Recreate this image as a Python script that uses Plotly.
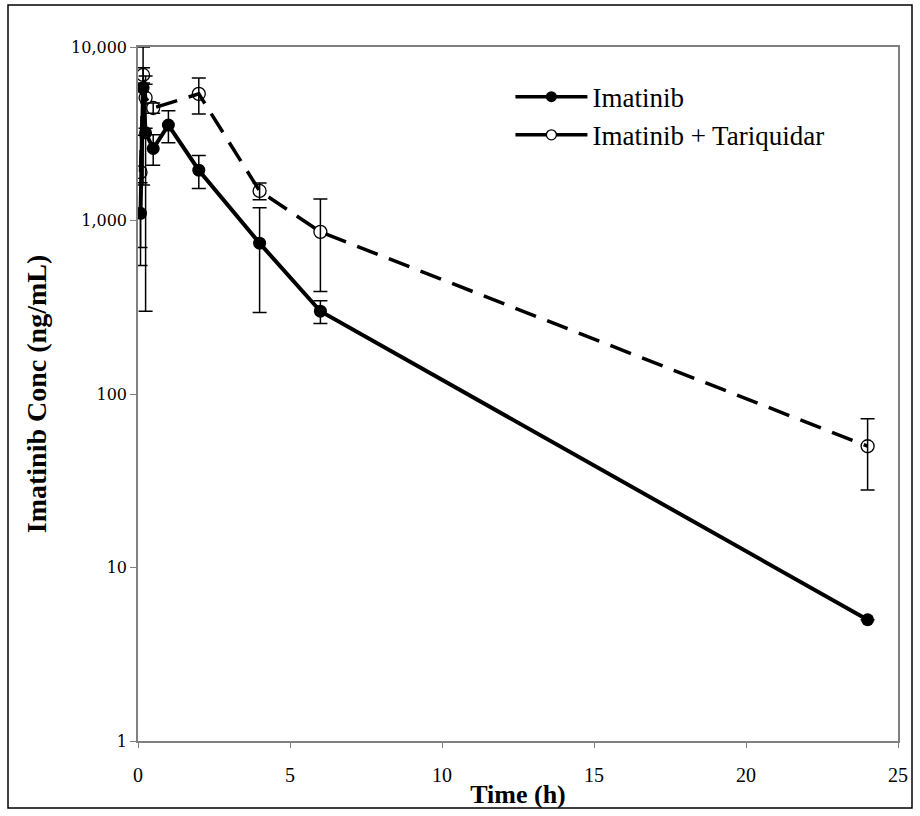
import plotly.graph_objects as go

# Data
time_ima = [0.083, 0.167, 0.25, 0.5, 1, 2, 4, 6, 24]
conc_ima = [1100, 5800, 3200, 2600, 3550, 1950, 740, 300, 5]
sd_ima = [550, 4200, 2900, 520, 740, 420, 445, 45, 0]

time_tq = [0.083, 0.167, 0.25, 0.5, 2, 4, 6, 24]
conc_tq = [1900, 6900, 5100, 4450, 5370, 1480, 860, 50]
sd_tq = [1200, 700, 1700, 300, 1260, 165, 470, 22]

y_tickvals = [1, 10, 100, 1000, 10000]
y_ticktext = ["1", "10", "100", "1,000", "10,000"]
x_tickvals = [0, 5, 10, 15, 20, 25]

SERIF = "Liberation Serif, Times New Roman, serif"

fig = go.Figure()

fig.add_trace(go.Scatter(
    x=time_tq, y=conc_tq, mode="lines+markers", showlegend=False,
    line=dict(color="black", width=3.5, dash="22px,12px"),
    marker=dict(symbol="circle-open", size=13, color="black", line=dict(width=1.3)),
    error_y=dict(type="data", array=sd_tq, color="black", thickness=1.5, width=7),
))
fig.add_trace(go.Scatter(
    x=time_ima, y=conc_ima, mode="lines+markers", showlegend=False,
    line=dict(color="black", width=4),
    marker=dict(symbol="circle", size=13, color="black"),
    error_y=dict(type="data", array=sd_ima, color="black", thickness=1.5, width=7),
))

# legend-only entries (solid line symbols as in the reference)
fig.add_trace(go.Scatter(
    x=[None], y=[None], mode="lines+markers", name="Imatinib",
    line=dict(color="black", width=3.5),
    marker=dict(symbol="circle", size=11, color="black"),
))
fig.add_trace(go.Scatter(
    x=[None], y=[None], mode="lines+markers", name="Imatinib + Tariquidar",
    line=dict(color="black", width=3.5),
    marker=dict(symbol="circle", size=10, color="white", line=dict(color="black", width=1.3)),
))

fig.update_layout(
    width=920, height=816,
    margin=dict(l=138, r=22, t=47, b=75),
    paper_bgcolor="white", plot_bgcolor="white",
    font=dict(family=SERIF, color="black"),
    showlegend=True,
    legend=dict(x=0.49, y=0.963, xanchor="left", yanchor="top",
                font=dict(family=SERIF, size=27, color="black"),
                itemwidth=72, bgcolor="rgba(0,0,0,0)", tracegroupgap=0),
    xaxis=dict(range=[0, 25], tickvals=x_tickvals, ticks="outside", ticklen=5,
               tickcolor="#808080", linecolor="#808080", linewidth=1.5, mirror=True,
               showgrid=False, zeroline=False, ticklabelstandoff=10,
               tickfont=dict(family=SERIF, size=20, color="black"),
               title=dict(text="<b>Time (h)</b>", font=dict(family=SERIF, size=26), standoff=0)),
    yaxis=dict(type="log", range=[0, 4], tickvals=y_tickvals, ticktext=y_ticktext,
               ticks="outside", ticklen=6, tickcolor="#808080", linecolor="#808080",
               linewidth=1.5, mirror=True, showgrid=False, zeroline=False,
               tickfont=dict(family="DejaVu Serif, serif", size=16, color="black"),
               title=dict(text="<b>Imatinib Conc (ng/mL)</b>", font=dict(family=SERIF, size=28), standoff=16)),
    shapes=[dict(type="rect", xref="paper", yref="paper",
                 x0=(8 - 138) / 760, x1=(912 - 138) / 760,
                 y0=(741 - 808) / 694, y1=(741 - 5) / 694,
                 line=dict(color="black", width=1.5), fillcolor="rgba(0,0,0,0)", layer="below")],
)

fig.write_html(
    "out.html",
    config={"displayModeBar": False},
    post_script="document.body.style.margin='0';document.body.style.overflow='hidden';",
)
